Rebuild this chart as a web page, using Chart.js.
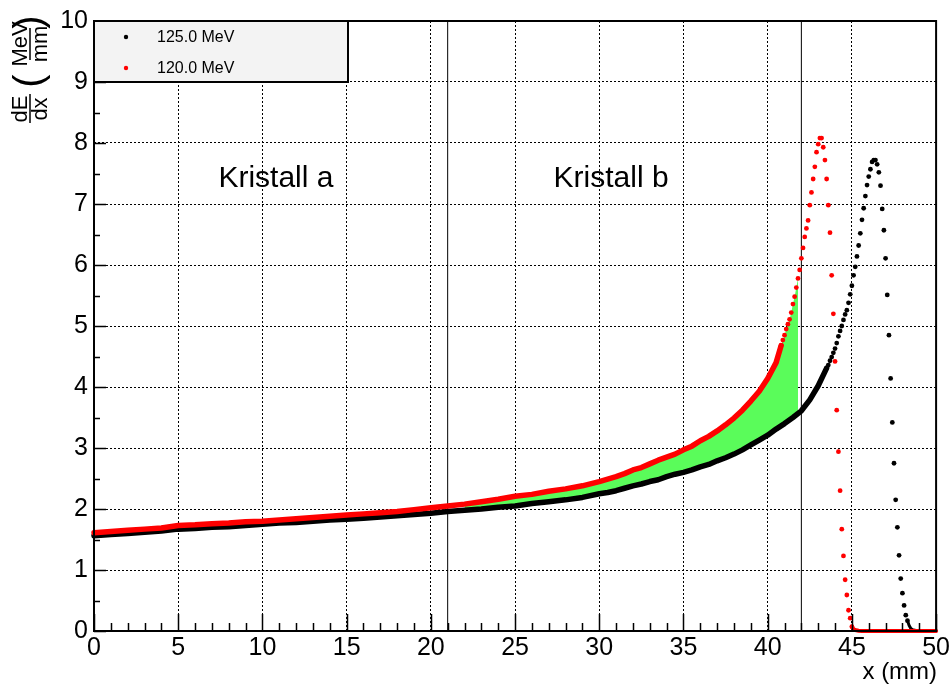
<!DOCTYPE html>
<html>
<head>
<meta charset="utf-8">
<title>dE/dx Kristall a / b</title>
<script src="https://cdn.jsdelivr.net/npm/chart.js@4.4.0/dist/chart.umd.min.js"></script>
<style>
  html, body { margin: 0; padding: 0; background: #ffffff; }
  canvas { display: block; }
</style>
</head>
<body>
<canvas id="braggChart" width="952" height="684"></canvas>
<script>
// Energy loss along the beam path (x in mm, dE/dx in MeV/mm)

// axis ticks
const xTicks = [0, 5, 10, 15, 20, 25, 30, 35, 40, 45, 50];
const yTicks = [0, 1, 2, 3, 4, 5, 6, 7, 8, 9, 10];

// crystal boundaries (mm)
const crystalEdges = [21, 42];
const crystalNames = ['Kristall a', 'Kristall b'];

// 125.0 MeV - dense part of the curve
const blackBandX = [0, 1, 2, 3, 4, 5, 6, 7, 8, 9, 10, 11, 12, 13, 14, 15, 16, 17, 18, 19, 20,
  21, 22, 23, 24, 25, 26, 27, 28, 29, 30, 30.5, 31, 31.5, 32, 32.5, 33, 33.5, 34, 34.5, 35,
  35.5, 36, 36.5, 37, 37.5, 38, 38.5, 39, 39.5, 40, 40.5, 41, 41.5, 42, 42.5, 43, 43.5];
const blackBandY = [1.56, 1.58, 1.60, 1.62, 1.64, 1.67, 1.68, 1.70, 1.71, 1.73, 1.75, 1.77, 1.78, 1.80, 1.82, 1.83, 1.85, 1.87, 1.89, 1.91, 1.93,
  1.96, 1.98, 2.00, 2.03, 2.05, 2.09, 2.12, 2.15, 2.19, 2.25, 2.27, 2.30, 2.34, 2.38, 2.41, 2.45, 2.48, 2.53, 2.57, 2.60,
  2.64, 2.69, 2.73, 2.79, 2.84, 2.90, 2.97, 3.05, 3.13, 3.21, 3.31, 3.40, 3.50, 3.61, 3.79, 4.02, 4.31];

// 125.0 MeV - Bragg peak (single markers)
const blackPeakX = [43.5, 43.6, 43.7, 43.8, 43.9, 44.0, 44.1, 44.2, 44.3, 44.4, 44.5, 44.6, 44.7, 44.8, 44.9,
  45.0, 45.1, 45.2, 45.3, 45.4, 45.5, 45.6, 45.7, 45.8, 45.9, 46.0, 46.1, 46.2, 46.3, 46.4, 46.5, 46.6, 46.7,
  46.8, 46.9, 47.0, 47.1, 47.2, 47.3, 47.4, 47.5, 47.6, 47.7, 47.8, 47.9, 48.0, 48.1, 48.2, 48.3];
const blackPeakY = [4.31, 4.36, 4.43, 4.49, 4.56, 4.63, 4.72, 4.83, 4.92, 5.00, 5.10, 5.19, 5.26, 5.38, 5.52,
  5.66, 5.83, 5.97, 6.14, 6.32, 6.52, 6.74, 6.93, 7.13, 7.31, 7.45, 7.57, 7.69, 7.72, 7.72, 7.65, 7.52, 7.30,
  6.92, 6.57, 6.11, 5.51, 4.85, 4.14, 3.42, 2.75, 2.15, 1.70, 1.24, 0.86, 0.62, 0.42, 0.26, 0.17];

// 125.0 MeV - tail behind the peak
const blackTailX = [48.3, 48.4, 48.5, 48.6, 48.8, 49.0, 50];
const blackTailY = [0.17, 0.09, 0.04, 0.02, 0.01, 0, 0];

// 120.0 MeV - dense part of the curve
const redBandX = [0, 1, 2, 3, 4, 5, 6, 7, 8, 9, 10, 11, 12, 13, 14, 15, 16, 17, 18, 19, 20,
  21, 22, 23, 24, 25, 26, 27, 28, 29, 30, 30.5, 31, 31.5, 32, 32.5, 33, 33.5, 34, 34.5, 35,
  35.5, 36, 36.5, 37, 37.5, 38, 38.5, 39, 39.5, 40, 40.5, 40.8];
const redBandY = [1.61, 1.63, 1.65, 1.67, 1.69, 1.73, 1.74, 1.76, 1.77, 1.79, 1.80, 1.82, 1.84, 1.86, 1.88, 1.90, 1.92, 1.94, 1.96, 1.99, 2.02,
  2.05, 2.08, 2.12, 2.16, 2.21, 2.24, 2.29, 2.33, 2.38, 2.45, 2.49, 2.53, 2.58, 2.64, 2.68, 2.74, 2.80, 2.85, 2.90, 2.97,
  3.03, 3.12, 3.19, 3.28, 3.38, 3.49, 3.62, 3.77, 3.93, 4.14, 4.40, 4.68];

// 120.0 MeV - Bragg peak (single markers)
const redPeakX = [40.8, 40.9, 41.0, 41.1, 41.2, 41.3, 41.4, 41.5, 41.6, 41.7, 41.8, 41.9, 42.0, 42.1, 42.2,
  42.3, 42.4, 42.5, 42.6, 42.7, 42.8, 42.9, 43.0, 43.1, 43.2, 43.3, 43.4, 43.5, 43.6, 43.7, 43.8, 43.9, 44.0,
  44.1, 44.2, 44.3, 44.4, 44.5, 44.6, 44.7, 44.8, 44.9, 45.0];
const redPeakY = [4.68, 4.77, 4.85, 4.95, 5.03, 5.11, 5.22, 5.36, 5.48, 5.63, 5.78, 5.92, 6.11, 6.28, 6.46,
  6.60, 6.73, 6.98, 7.19, 7.41, 7.61, 7.85, 7.98, 8.08, 8.08, 7.93, 7.72, 7.41, 6.98, 6.53, 5.83, 5.20, 4.42,
  3.62, 2.94, 2.30, 1.67, 1.23, 0.84, 0.59, 0.34, 0.21, 0.07];

// 120.0 MeV - tail behind the peak
const redTailX = [45.0, 45.1, 45.2, 45.4, 45.6, 50];
const redTailY = [0.07, 0.03, 0.015, 0.005, 0, 0];

// x range of the shaded difference between the two curves
const diffRange = [22, 41.8];

const FONT = "'Liberation Sans', Arial, Helvetica, sans-serif";

const pts = (xs, ys) => xs.map((x, i) => ({ x: x, y: ys[i] }));
const inRange = (p) => p.x >= diffRange[0] && p.x <= diffRange[1];

const redAll = pts(redBandX, redBandY).concat(pts(redPeakX, redPeakY).slice(1));
const diffTop = redAll.filter(inRange);
const diffBottom = pts(blackBandX, blackBandY).filter(p => p.x >= diffRange[0] && p.x <= 42);

const bandStyle = (color) => ({
  showLine: true,
  borderColor: color,
  borderWidth: 5.5,
  borderCapStyle: 'round',
  borderJoinStyle: 'round',
  pointRadius: 0,
  clip: false,
  fill: false
});

const dotStyle = (color) => ({
  showLine: false,
  backgroundColor: color,
  borderWidth: 0,
  pointRadius: 2.4,
  pointHoverRadius: 2.4,
  clip: false
});

const edgeSets = crystalEdges.map(e => ({
  data: [{ x: e, y: yTicks[0] }, { x: e, y: yTicks[yTicks.length - 1] }],
  showLine: true,
  borderColor: '#000000',
  borderWidth: 1,
  pointRadius: 0,
  fill: false
}));

// extra drawing: frame, inner ticks, legend box, text labels, axis titles
const decorations = {
  id: 'decorations',
  afterDatasetsDraw(chart) {
    const { ctx, chartArea: a, scales } = chart;
    const sx = scales.x, sy = scales.y;
    ctx.save();

    // inner tick marks
    ctx.strokeStyle = '#000';
    ctx.lineWidth = 1.5;
    ctx.beginPath();
    for (let v = xTicks[0]; v <= xTicks[xTicks.length - 1]; v += 1) {
      const px = Math.round(sx.getPixelForValue(v)) + 0.5;
      const len = (v % 5 === 0) ? 17 : 8;
      ctx.moveTo(px, a.bottom);
      ctx.lineTo(px, a.bottom - len);
    }
    for (let v = yTicks[0]; v <= yTicks[yTicks.length - 1]; v += 0.5) {
      const py = Math.round(sy.getPixelForValue(v)) + 0.5;
      const len = (v % 1 === 0) ? 12 : 6;
      ctx.moveTo(a.left, py);
      ctx.lineTo(a.left + len, py);
    }
    ctx.stroke();

    // legend box
    const lw = 254, lh = 61;
    ctx.fillStyle = '#f3f3f3';
    ctx.fillRect(a.left, a.top, lw, lh);
    ctx.lineWidth = 2;
    ctx.strokeRect(a.left, a.top, lw, lh);
    const entries = [
      { text: '125.0 MeV', color: '#000000' },
      { text: '120.0 MeV', color: '#ff0000' }
    ];
    ctx.font = '16px ' + FONT;
    ctx.textBaseline = 'middle';
    ctx.textAlign = 'left';
    entries.forEach((e, i) => {
      const cy = a.top + 16 + i * 31;
      ctx.fillStyle = e.color;
      ctx.beginPath();
      ctx.arc(a.left + 32, cy, 2.2, 0, Math.PI * 2);
      ctx.fill();
      ctx.fillStyle = '#000';
      ctx.fillText(e.text, a.left + 63, cy + 1);
    });

    // crystal labels
    ctx.font = '30px ' + FONT;
    ctx.textAlign = 'center';
    ctx.textBaseline = 'alphabetic';
    ctx.fillStyle = '#000';
    const labelX = [10.8, 30.7];
    crystalNames.forEach((t, i) => {
      ctx.fillText(t, sx.getPixelForValue(labelX[i]), sy.getPixelForValue(7.28));
    });

    // frame
    ctx.lineWidth = 2;
    ctx.strokeStyle = '#000';
    ctx.strokeRect(a.left, a.top, a.right - a.left, a.bottom - a.top);

    // x axis title
    ctx.font = '24px ' + FONT;
    ctx.textAlign = 'right';
    ctx.fillText('x (mm)', a.right + 1, 679);

    // y axis title: dE/dx (MeV/mm) as fractions, rotated
    ctx.translate(30, 123);
    ctx.rotate(-Math.PI / 2);
    ctx.font = '22px ' + FONT;
    ctx.textAlign = 'center';
    ctx.textBaseline = 'alphabetic';
    ctx.fillText('dE', 14, -3);
    ctx.fillText('dx', 14, 17);
    ctx.fillText('MeV', 79, -3);
    ctx.fillText('mm', 79, 17);
    ctx.lineWidth = 1.5;
    ctx.beginPath();
    ctx.moveTo(0, 0); ctx.lineTo(29, 0);
    ctx.moveTo(63, 0); ctx.lineTo(95, 0);
    ctx.stroke();
    ctx.font = '40px ' + FONT;
    ctx.textBaseline = 'middle';
    ctx.fillText('(', 42, 1);
    ctx.fillText(')', 101, 1);

    ctx.restore();
  }
};

new Chart(document.getElementById('braggChart').getContext('2d'), {
  type: 'scatter',
  data: {
    datasets: [
      Object.assign({ label: '120.0 MeV peak', data: pts(redPeakX, redPeakY) }, dotStyle('#ff0000')),
      Object.assign({ label: '120.0 MeV tail', data: pts(redTailX, redTailY) }, bandStyle('#ff0000'), { borderWidth: 4 }),
      Object.assign({ label: '120.0 MeV', data: pts(redBandX, redBandY) }, bandStyle('#ff0000')),
      Object.assign({ label: '125.0 MeV peak', data: pts(blackPeakX, blackPeakY) }, dotStyle('#000000')),
      Object.assign({ label: '125.0 MeV tail', data: pts(blackTailX, blackTailY) }, bandStyle('#000000'), { borderWidth: 3 }),
      Object.assign({ label: '125.0 MeV', data: pts(blackBandX, blackBandY) }, bandStyle('#000000')),
      ...edgeSets,
      {
        label: 'diff',
        data: diffTop,
        showLine: true,
        borderWidth: 0,
        borderColor: 'rgba(0,0,0,0)',
        pointRadius: 0,
        backgroundColor: '#5afc5a',
        fill: '+1'
      },
      {
        label: 'diff base',
        data: diffBottom,
        showLine: true,
        borderWidth: 0,
        borderColor: 'rgba(0,0,0,0)',
        pointRadius: 0,
        fill: false
      }
    ]
  },
  options: {
    responsive: false,
    animation: false,
    events: [],
    layout: { padding: { left: 0, top: 21, right: 15, bottom: 0 } },
    plugins: {
      legend: { display: false },
      tooltip: { enabled: false }
    },
    scales: {
      x: {
        type: 'linear',
        min: xTicks[0],
        max: xTicks[xTicks.length - 1],
        afterBuildTicks: (s) => { s.ticks = xTicks.map(v => ({ value: v })); },
        afterFit: (s) => { s.height = 53; },
        ticks: { color: '#000', font: { family: FONT, size: 25 }, padding: 2, maxRotation: 0, autoSkip: false },
        grid: { color: '#000', lineWidth: 1, drawTicks: false },
        border: { display: false, dash: [2, 2] }
      },
      y: {
        type: 'linear',
        min: yTicks[0],
        max: yTicks[yTicks.length - 1],
        afterBuildTicks: (s) => { s.ticks = yTicks.map(v => ({ value: v })); },
        afterFit: (s) => { s.width = 94; },
        ticks: { color: '#000', font: { family: FONT, size: 25 }, padding: 6, autoSkip: false },
        grid: { color: '#000', lineWidth: 1, drawTicks: false },
        border: { display: false, dash: [2, 2] }
      }
    }
  },
  plugins: [decorations]
});
</script>
</body>
</html>
